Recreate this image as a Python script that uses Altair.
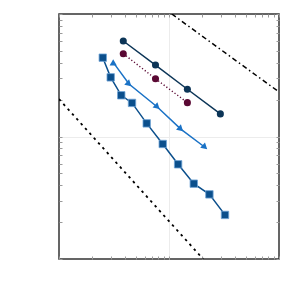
import altair as alt
import pandas as pd

# Data (log-log axes, 1..100 both)
navy_x = [3.84, 7.54, 14.7, 29.3]
navy_y = [60.2, 38.3, 24.3, 15.3]

maroon_x = [3.84, 7.54, 14.7]
maroon_y = [47.4, 29.6, 18.9]

tri_x = [3.11, 4.33, 7.83, 12.8, 21.2]
tri_y = [40.3, 26.8, 17.4, 11.5, 8.17]
tri_angle = [0, 132, 132, 132, 132]

sq_x = [2.50, 2.95, 3.68, 4.61, 6.27, 8.77, 12.1, 16.8, 23.3, 32.3]
sq_y = [44.0, 30.4, 21.7, 18.8, 12.8, 8.69, 5.93, 4.12, 3.37, 2.29]

ref1_x = [10.6, 100]   # dash-dot guide
ref1_y = [100, 23.1]
ref2_x = [1, 20.4]     # dashed guide
ref2_y = [20.2, 1]

tick_vals = [1, 2, 3, 4, 5, 6, 7, 8, 9, 10, 20, 30, 40, 50, 60, 70, 80, 90, 100]

xs = alt.Scale(type="log", domain=[1, 100], nice=False)
ys = alt.Scale(type="log", domain=[1, 100], nice=False)

def ax(orient, grid=True):
    return alt.Axis(orient=orient, values=tick_vals, labels=False, domain=False,
                    title=None, tickSize=3, offset=-3, tickColor="#9a9a9a",
                    tickWidth=1, grid=grid, gridColor="#ececec",
                    gridOpacity=alt.ExprRef("datum.value == 10 ? 1 : 0"))

def X(axis=None):
    return alt.X("x:Q", scale=xs, axis=axis)

def Y(axis=None):
    return alt.Y("y:Q", scale=ys, axis=axis)

df_navy = pd.DataFrame({"x": navy_x, "y": navy_y})
df_mar = pd.DataFrame({"x": maroon_x, "y": maroon_y})
df_tri = pd.DataFrame({"x": tri_x, "y": tri_y, "ang": tri_angle})
df_sq = pd.DataFrame({"x": sq_x, "y": sq_y})
df_r1 = pd.DataFrame({"x": ref1_x, "y": ref1_y})
df_r2 = pd.DataFrame({"x": ref2_x, "y": ref2_y})

r1 = alt.Chart(df_r1).mark_line(color="black", strokeWidth=1.5, strokeDash=[5, 3, 1.5, 3], clip=True).encode(
    x=X(ax("bottom")), y=Y(ax("left")))
r2 = alt.Chart(df_r2).mark_line(color="black", strokeWidth=1.8, strokeDash=[2.5, 4], clip=True).encode(
    x=X(ax("top", grid=False)), y=Y(ax("right", grid=False)))

navy_c = "#0c3557"
mar_c = "#5a0833"
tri_c = "#1a72c6"
sq_c = "#0b4f8c"

sq_l = alt.Chart(df_sq).mark_line(color=sq_c, strokeWidth=1.5).encode(x=X(), y=Y())
sq_p = alt.Chart(df_sq).mark_point(shape="square", filled=True, size=55, color=sq_c, opacity=1,
                                   stroke="#6fa3d6", strokeWidth=0.8).encode(x=X(), y=Y())
tri_l = alt.Chart(df_tri).mark_line(color=tri_c, strokeWidth=1.5).encode(x=X(), y=Y())
tri_p = alt.Chart(df_tri).mark_point(shape="triangle-up", filled=True, size=52, color=tri_c, opacity=1).encode(
    x=X(), y=Y(), angle=alt.Angle("ang:Q", scale=None))
navy_l = alt.Chart(df_navy).mark_line(color=navy_c, strokeWidth=1.5).encode(x=X(), y=Y())
navy_p = alt.Chart(df_navy).mark_point(shape="circle", filled=True, size=50, color=navy_c, opacity=1).encode(x=X(), y=Y())
mar_l = alt.Chart(df_mar).mark_line(color=mar_c, strokeWidth=1.4, strokeDash=[1.2, 2.2]).encode(x=X(), y=Y())
mar_p = alt.Chart(df_mar).mark_point(shape="circle", filled=True, size=50, color=mar_c, opacity=1).encode(x=X(), y=Y())

chart = alt.layer(r1, r2, sq_l, sq_p, tri_l, tri_p, mar_l, mar_p, navy_l, navy_p).resolve_axis(
    x="independent", y="independent"
).properties(
    width=220, height=245,
    autosize=alt.AutoSizeParams(type="none"),
    padding={"left": 51, "top": 6, "right": 13, "bottom": 33},
).configure_view(stroke="#333333", strokeWidth=1.5)

chart.save("out.html", embed_options={"renderer": "svg", "actions": False})
